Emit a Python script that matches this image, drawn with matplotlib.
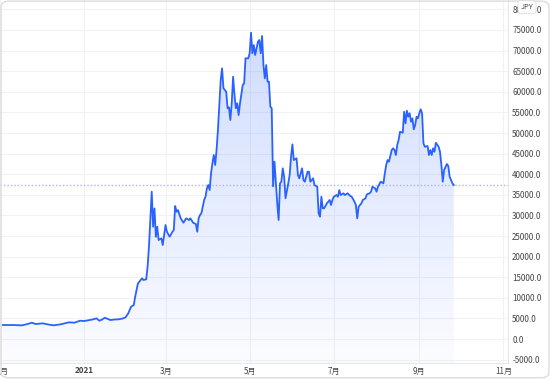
import numpy as np
import pandas as pd
import matplotlib
matplotlib.use('Agg')
import matplotlib.pyplot as plt
import matplotlib.dates as mdates
from matplotlib.patches import Polygon, FancyBboxPatch

plt.rcParams['font.family'] = ['Noto Sans CJK JP', 'DejaVu Sans']

# 日付と価格 (JPY)
dates = [
    '2020-11-03', '2020-11-10', '2020-11-17', '2020-11-21', '2020-11-24', '2020-11-27',
    '2020-12-02', '2020-12-06', '2020-12-10', '2020-12-15', '2020-12-18', '2020-12-21',
    '2020-12-25', '2020-12-29',
    '2021-01-01', '2021-01-05', '2021-01-07', '2021-01-10', '2021-01-12', '2021-01-14',
    '2021-01-16', '2021-01-20', '2021-01-23', '2021-01-26', '2021-01-29', '2021-01-31',
    '2021-02-02', '2021-02-04', '2021-02-06', '2021-02-07', '2021-02-09', '2021-02-11',
    '2021-02-12', '2021-02-13', '2021-02-15', '2021-02-16', '2021-02-17', '2021-02-18',
    '2021-02-19', '2021-02-20', '2021-02-21', '2021-02-22', '2021-02-23', '2021-02-24',
    '2021-02-26', '2021-02-27',
    '2021-03-01', '2021-03-02', '2021-03-04', '2021-03-06', '2021-03-07', '2021-03-08',
    '2021-03-09', '2021-03-10', '2021-03-12', '2021-03-14', '2021-03-16', '2021-03-18',
    '2021-03-19', '2021-03-21', '2021-03-23', '2021-03-24', '2021-03-25', '2021-03-26',
    '2021-03-27', '2021-03-29', '2021-03-30', '2021-03-31',
    '2021-04-01', '2021-04-02', '2021-04-03', '2021-04-04', '2021-04-05', '2021-04-06',
    '2021-04-07', '2021-04-08', '2021-04-09', '2021-04-10', '2021-04-11', '2021-04-12',
    '2021-04-14', '2021-04-15', '2021-04-16', '2021-04-17', '2021-04-18', '2021-04-19',
    '2021-04-20', '2021-04-21', '2021-04-22', '2021-04-23', '2021-04-24', '2021-04-26',
    '2021-04-27', '2021-04-28', '2021-04-30',
    '2021-05-01', '2021-05-02', '2021-05-03', '2021-05-04', '2021-05-05', '2021-05-06',
    '2021-05-07', '2021-05-08', '2021-05-09', '2021-05-10', '2021-05-11', '2021-05-12',
    '2021-05-13', '2021-05-14', '2021-05-15', '2021-05-16', '2021-05-17', '2021-05-18',
    '2021-05-19', '2021-05-20', '2021-05-21', '2021-05-22', '2021-05-23', '2021-05-24',
    '2021-05-25', '2021-05-26', '2021-05-27', '2021-05-29', '2021-05-30', '2021-05-31',
    '2021-06-01', '2021-06-02', '2021-06-04', '2021-06-05', '2021-06-06', '2021-06-08',
    '2021-06-09', '2021-06-10', '2021-06-12', '2021-06-13', '2021-06-14', '2021-06-16',
    '2021-06-17', '2021-06-19', '2021-06-20', '2021-06-21', '2021-06-22', '2021-06-23',
    '2021-06-24', '2021-06-26', '2021-06-28', '2021-06-29', '2021-06-30',
    '2021-07-01', '2021-07-03', '2021-07-04', '2021-07-05', '2021-07-06', '2021-07-08',
    '2021-07-09', '2021-07-11', '2021-07-13', '2021-07-14', '2021-07-16', '2021-07-17',
    '2021-07-18', '2021-07-19', '2021-07-21', '2021-07-22', '2021-07-24', '2021-07-25',
    '2021-07-27', '2021-07-28', '2021-07-29', '2021-07-31',
    '2021-08-01', '2021-08-02', '2021-08-04', '2021-08-06', '2021-08-07', '2021-08-08',
    '2021-08-09', '2021-08-10', '2021-08-12', '2021-08-13', '2021-08-14', '2021-08-15',
    '2021-08-16', '2021-08-17', '2021-08-18', '2021-08-20', '2021-08-21', '2021-08-22',
    '2021-08-23', '2021-08-24', '2021-08-25', '2021-08-26', '2021-08-27', '2021-08-28',
    '2021-08-29', '2021-08-30', '2021-08-31',
    '2021-09-01', '2021-09-02', '2021-09-03', '2021-09-04', '2021-09-05', '2021-09-07',
    '2021-09-08', '2021-09-09', '2021-09-10', '2021-09-11', '2021-09-12', '2021-09-13',
    '2021-09-15', '2021-09-16', '2021-09-17', '2021-09-18', '2021-09-19', '2021-09-21',
    '2021-09-22', '2021-09-23', '2021-09-24', '2021-09-25', '2021-09-26',
]
prices = [
    3400, 3400, 3320, 3640, 3960, 3640,
    3810, 3520, 3320, 3570, 3810, 4050,
    3960, 4440,
    4370, 4610, 4730, 5020, 4440, 4730,
    5170, 4610, 4730, 4780, 4980, 5270,
    6240, 7840, 8250, 10270, 13500, 14320,
    14730, 14320, 14490, 17550, 22400, 28880,
    35750, 27260, 31680, 24790, 27260, 24030,
    24440, 22810,
    27670, 26040, 24830, 26040, 26450, 32280,
    30900, 31310, 29300, 28230, 29300, 28880,
    29300, 28230, 27910, 26040, 29300, 30090,
    30510, 33740, 34540, 36570,
    37380, 36160, 40220, 42640, 44660, 42230,
    45870, 50720, 56790, 62860, 65700, 60850,
    60020, 55990, 56230, 53150, 57200, 63660,
    59220, 55990, 57200, 54360, 57200, 61650,
    62060, 68130, 68130,
    69340, 74340, 69340, 71350, 68930, 70550,
    72150, 72570, 69340, 73540, 66500, 63270,
    66500, 62450, 62450, 56380, 55990, 37050,
    43030, 37790, 32930, 28880, 37790, 38180,
    41430, 39390, 34150, 37790, 39800, 44240,
    47250, 43440, 43860, 39800, 39000, 41430,
    38590, 38180, 40600, 40600, 38180, 39000,
    37380, 36960, 30510, 29680, 34540, 31720,
    31720, 32930, 33740, 32520, 33740,
    34540, 34950, 34540, 36160, 34950, 35360,
    34950, 35360, 34710, 34540, 33320, 32520,
    29300, 32110, 32930, 33740, 34150, 35120,
    35360, 35750, 36960, 36570,
    35750, 36960, 38180, 37790, 40220, 42230,
    43440, 43030, 45870, 46280, 45870, 44660,
    47080, 48300, 50310, 50070, 55170, 52350,
    55410, 53950, 54780, 52740, 53560, 50890,
    51940, 53950, 53560,
    54780, 55750, 54780, 47500, 46670, 46840,
    44660, 45870, 44660, 46280, 45460, 47640,
    46670, 45460, 42230, 38180, 41020, 42470,
    41990, 39390, 38590, 37790, 37380,
]

tick_dates = ['2020-11-01', '2021-01-01', '2021-03-01', '2021-05-01',
              '2021-07-01', '2021-09-01', '2021-11-01']
tick_labels = ['11月', '2021', '3月', '5月', '7月', '9月', '11月']

x = mdates.date2num(pd.to_datetime(dates))
y = np.array(prices, dtype=float)

line_color = '#2962FF'
y_lo, y_hi = -5820, 82280
x_lo = mdates.date2num(pd.Timestamp('2021-01-01') - pd.Timedelta(days=59.3))
x_hi = mdates.date2num(pd.Timestamp('2021-01-01') + pd.Timedelta(days=307.3))

fig = plt.figure(figsize=(5.5, 3.79), dpi=100)
ax = fig.add_axes([0, 16 / 379, 508 / 550, 363 / 379])

# グラデーション塗りつぶし
verts = np.column_stack([np.r_[x[0], x, x[-1]], np.r_[y_lo, y, y_lo]])
poly = Polygon(verts, closed=True, facecolor='none', edgecolor='none')
ax.add_patch(poly)
grad = np.zeros((256, 1, 4))
grad[:, 0, 0:3] = matplotlib.colors.to_rgb(line_color)
grad[:, 0, 3] = np.linspace(0.24, 0.02, 256)
img = ax.imshow(grad, extent=[x_lo, x_hi, y_lo, y_hi], aspect='auto',
                origin='upper', zorder=1, interpolation='bicubic')
img.set_clip_path(poly)

ax.plot(x, y, color=line_color, lw=1.3, zorder=3, solid_joinstyle='round')
ax.axhline(y[-1], color='#aab3f3', lw=1.0, ls=(0, (1, 1.5)), zorder=2)

ax.set_xlim(x_lo, x_hi)
ax.set_ylim(y_lo, y_hi)

ax.set_yticks(np.arange(-5000, 80001, 5000))
ax.yaxis.tick_right()
ax.yaxis.set_major_formatter(matplotlib.ticker.FormatStrFormatter('%.1f'))
ax.set_xticks(mdates.date2num(pd.to_datetime(tick_dates)))
ax.set_xticklabels(tick_labels)
ax.get_xticklabels()[1].set_fontweight('bold')
ax.tick_params(axis='both', length=0, labelsize=5.8, labelcolor='#444444')
ax.tick_params(axis='y', pad=3)
ax.tick_params(axis='x', pad=2.5)

ax.grid(True, color='#f1f2f5', lw=0.8, zorder=0)
ax.set_axisbelow(True)
for s in ['top', 'left']:
    ax.spines[s].set_visible(False)
for s in ['right', 'bottom']:
    ax.spines[s].set_color('#e6e8ee')
    ax.spines[s].set_linewidth(0.8)

# 通貨ラベル (80000.0 の上に重なる)
fig.text(527 / 550, 1 - 7 / 379, 'JPY', fontsize=5.4, color='#444444',
         ha='center', va='center', zorder=10,
         bbox=dict(boxstyle='round,pad=0.35', fc='white', ec='#dddddd', lw=0.6))

border = FancyBboxPatch((0.002, 0.003), 0.996, 0.994, boxstyle='round,pad=0,rounding_size=0.015',
                        transform=fig.transFigure, fc='none', ec='#dcdcdc', lw=1.0)
fig.patches.append(border)

fig.savefig('out.png', dpi=100)
